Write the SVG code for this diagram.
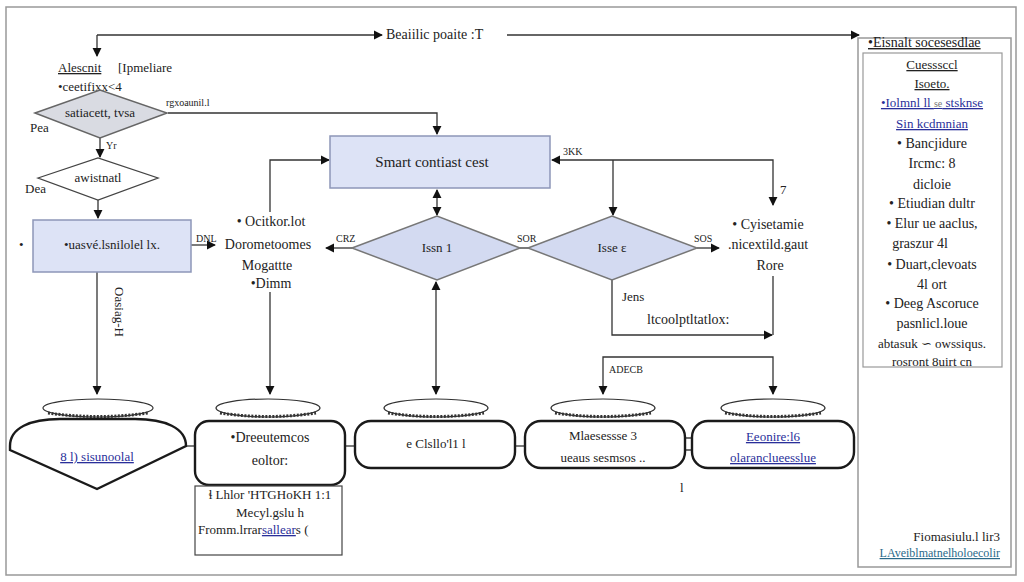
<svg xmlns="http://www.w3.org/2000/svg" width="1024" height="582" viewBox="0 0 1024 582">
<style>
text{font-family:"Liberation Serif","DejaVu Serif",serif;fill:#222;font-size:13px}
.m{text-anchor:middle}
.e{text-anchor:end}
.sm{font-size:10px}
.t{font-size:15px}
.p{font-size:14px}
.u{text-decoration:underline}
.b{fill:#2a2f9a;text-decoration:underline}
.c{fill:none;stroke:#333;stroke-width:1.3}
.pb{fill:#dde3f6;stroke:#8d96b8;stroke-width:1.5}
.dg{fill:#d9dbe2;stroke:#666;stroke-width:1.5}
.db{fill:#d3daf1;stroke:#777;stroke-width:1.5}
.dw{fill:#fff;stroke:#444;stroke-width:1.3}
.rr{fill:#fff;stroke:#1a1a1a;stroke-width:2.4}
.cap{fill:#fff;stroke:#333;stroke-width:1.2}
.hat{fill:none;stroke:#333;stroke-width:3;stroke-dasharray:2 1.5}
.fr{fill:none;stroke:#999;stroke-width:1.5}
</style>
<defs>
<marker id="ah" viewBox="0 0 10 10" refX="9" refY="5" markerWidth="7" markerHeight="7" orient="auto-start-reverse"><path d="M0,0 L10,5 L0,10 z" fill="#111"/></marker>
</defs>
<rect width="1024" height="582" fill="#fff"/>
<rect class="fr" x="6" y="7" width="1010" height="568"/>

<g id="connectors">
<path class="c" d="M97,35 H382" marker-end="url(#ah)"/>
<path class="c" d="M507,35 H859" marker-end="url(#ah)"/>
<path class="c" d="M97,35 V56" marker-end="url(#ah)"/>
<path class="c" d="M168,113 H437 V134" marker-end="url(#ah)"/>
<path class="c" d="M100,138 V157" marker-end="url(#ah)"/>
<path class="c" d="M98,200 V218" marker-end="url(#ah)"/>
<path class="c" d="M191,245 H215" marker-end="url(#ah)"/>
<path class="c" d="M270,212 V160 H329" marker-end="url(#ah)"/>
<path class="c" d="M270,292 V394" marker-end="url(#ah)"/>
<path class="c" d="M437,190 V215" marker-start="url(#ah)" marker-end="url(#ah)"/>
<path class="c" d="M436,394 V282" marker-start="url(#ah)" marker-end="url(#ah)"/>
<path class="c" d="M352,248 H326" marker-end="url(#ah)"/>
<path class="c" d="M520,248 H529"/>
<path class="c" d="M773,205 V160 H552" marker-start="url(#ah)" marker-end="url(#ah)"/>
<path class="c" d="M613,160 V215" marker-end="url(#ah)"/>
<path class="c" d="M697,248 H719" marker-end="url(#ah)"/>
<path class="c" d="M612,280 V335 H772" marker-end="url(#ah)"/>
<path class="c" d="M773,276 V335"/>
<path class="c" d="M603,394 V357 H773 V394" marker-start="url(#ah)" marker-end="url(#ah)"/>
<path class="c" d="M97,272 V394" marker-end="url(#ah)"/>
<path class="c" d="M187,446 H195"/>
<path class="c" d="M345,446 H355"/>
<path class="c" d="M515,446 H525"/>
<rect x="685" y="438" width="7" height="12" fill="#fff" stroke="#222" stroke-width="1.3"/>
</g>

<g id="top-label">
<text x="386" y="39" class="p">Beaiilic poaite :T</text>
</g>

<g id="decision-1">
<text x="58" y="72" class="u">Alescnit</text>
<text x="118" y="72">[Ipmeliare</text>
<text x="58" y="91">•ceetifixx&lt;4</text>
<polygon class="dg" points="35,113 100,90 167,113 100,138"/>
<text x="100" y="117" class="m">satiacett, tvsa</text>
<text x="30" y="132">Pea</text>
<text x="166" y="106" class="sm">rgxoaunil.l</text>
<text x="106" y="149" class="sm">Yr</text>
</g>

<g id="decision-4">
<polygon class="dw" points="38,178 98,158 158,178 98,200"/>
<text x="98" y="182" class="m">awistnatl</text>
<text x="25" y="193">Dea</text>
</g>

<g id="left-box">
<rect class="pb" x="33" y="220" width="158" height="52"/>
<text x="112" y="249" class="m">•uasvé.lsnilolel lx.</text>
<text x="19" y="249">•</text>
<text x="196" y="242" class="sm">DNL</text>
<text x="115" y="312" class="m" transform="rotate(90 115 312)">Oasiag-H</text>
</g>

<g id="mid-text">
<text x="271" y="226" class="m p">• Ocitkor.lot</text>
<text x="268" y="249" class="m p">Dorometoomes</text>
<text x="267" y="270" class="m p">Mogattte</text>
<text x="271" y="288" class="m p">•Dimm</text>
</g>

<g id="main-box">
<rect class="pb" x="330" y="136" width="220" height="52"/>
<text x="432" y="167" class="m t">Smart contiast cest</text>
<text x="563" y="155" class="sm">3KK</text>
<text x="780" y="194">7</text>
</g>

<g id="decision-2">
<polygon class="db" points="352,248 437,216 520,248 437,280"/>
<text x="437" y="252" class="m">Issn 1</text>
<text x="336" y="242" class="sm">CRZ</text>
<text x="517" y="242" class="sm">SOR</text>
</g>

<g id="decision-3">
<polygon class="db" points="528,248 612,216 697,248 612,280"/>
<text x="612" y="252" class="m">Isse ε</text>
<text x="694" y="242" class="sm">SOS</text>
</g>

<g id="right-text">
<text x="768" y="229" class="m p">• Cyisetamie</text>
<text x="768" y="249" class="m p">.nicextild.gaut</text>
<text x="770" y="270" class="m p">Rore</text>
<text x="622" y="301">Jens</text>
<text x="647" y="324" class="p">ltcoolptltatlox:</text>
<text x="609" y="373" class="sm">ADECB</text>
</g>

<g id="end-1">
<ellipse class="cap" cx="98" cy="408" rx="55" ry="9"/>
<path class="hat" d="M48,413 Q98,420 148,413"/>
<path class="rr" d="M10,446 C10,428 30,419 60,419 H135 C165,419 186,428 186,446 L97,489 L10,450 Z" stroke-width="2"/>
<text x="97" y="461" class="m b">8 l) sisunoolal</text>
</g>

<g id="end-2">
<ellipse class="cap" cx="268" cy="408" rx="52" ry="9"/>
<path class="hat" d="M220,413 Q268,420 316,413"/>
<rect class="rr" x="195" y="421" width="150" height="64" rx="14"/>
<text x="270" y="442" class="m p">•Dreeutemcos</text>
<text x="270" y="465" class="m p">eoltor:</text>
<rect x="195" y="486" width="147" height="69" fill="#fff" stroke="#444" stroke-width="1.2"/>
<text x="270" y="499" class="m">ɬ Lhlor 'HTGHoKH 1:1</text>
<text x="270" y="517" class="m">Mecyl.gslu h</text>
<text x="198" y="534">Fromm.lrrar<tspan class="b">sallear</tspan>s (</text>
</g>

<g id="end-3">
<ellipse class="cap" cx="436" cy="408" rx="52" ry="9"/>
<path class="hat" d="M388,413 Q436,420 484,413"/>
<rect class="rr" x="355" y="421" width="160" height="47" rx="16"/>
<text x="436" y="448" class="m">e Clsllo'l1 l</text>
</g>

<g id="end-4">
<ellipse class="cap" cx="603" cy="408" rx="52" ry="9"/>
<path class="hat" d="M555,413 Q603,420 651,413"/>
<rect class="rr" x="525" y="421" width="160" height="47" rx="16"/>
<text x="603" y="440" class="m">Mlaesessse 3</text>
<text x="603" y="462" class="m">ueaus sesmsos ..</text>
<text x="680" y="492">l</text>
</g>

<g id="end-5">
<ellipse class="cap" cx="773" cy="408" rx="52" ry="9"/>
<path class="hat" d="M725,413 Q773,420 821,413"/>
<rect class="rr" x="692" y="421" width="162" height="47" rx="16"/>
<text x="773" y="441" class="m b">Eeonire:l6</text>
<text x="773" y="462" class="m b">olaranclueesslue</text>
</g>

<g id="panel">
<rect class="fr" x="858" y="38" width="153" height="529"/>
<text x="868" y="47" class="u p">•Eisnalt socesesdlae</text>
<rect x="863" y="53" width="139" height="314" fill="none" stroke="#999" stroke-width="1.2"/>
<text x="932" y="69" class="m u">Cuesssccl</text>
<text x="932" y="88" class="m u">Isoeto.</text>
<text x="932" y="107" class="m b">•Iolmnl ll <tspan class="sm" style="fill:#777;text-decoration:none">se</tspan> stsknse</text>
<text x="932" y="128" class="m b">Sin kcdmnian</text>
<text x="932" y="148" class="m p">• Bancjidure</text>
<text x="932" y="168" class="m p">Ircmc: 8</text>
<text x="932" y="189" class="m p">dicloie</text>
<text x="932" y="208" class="m p">• Etiudian dultr</text>
<text x="932" y="228" class="m p">• Elur ue aaclus,</text>
<text x="920" y="248" class="m p">graszur 4l</text>
<text x="932" y="269" class="m p">• Duart,clevoats</text>
<text x="932" y="289" class="m p">4l ort</text>
<text x="932" y="308" class="m p">• Deeg Ascoruce</text>
<text x="932" y="328" class="m p">pasnlicl.loue</text>
<text x="932" y="348" class="m">abtasuk ∽ owssiqus.</text>
<text x="932" y="366" class="m">rosront 8uirt cn</text>
<text x="1000" y="541" class="e">Fiomasiulu.l lir3</text>
<text x="1000" y="557" class="e" style="font-size:12px;fill:#2a6a8a;text-decoration:underline">LAveiblmatnelholoecolir</text>
</g>
</svg>
